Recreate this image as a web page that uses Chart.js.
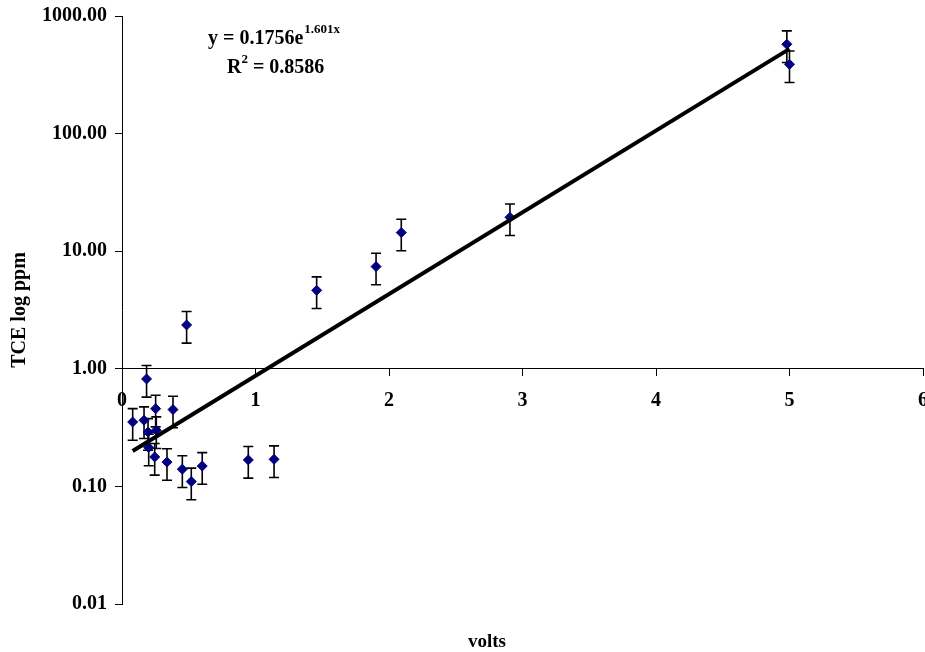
<!DOCTYPE html>
<html>
<head>
<meta charset="utf-8">
<script src="https://cdn.jsdelivr.net/npm/chart.js@4.4.1/dist/chart.umd.min.js"></script>
<style>
  html, body { margin: 0; padding: 0; background: #fff; overflow: hidden; }
  #wrap { width: 925px; height: 652px; overflow: hidden; }
</style>
</head>
<body>
<div id="wrap"><canvas id="tceChart" width="929" height="652"></canvas></div>
<script>
// Measured points (volts vs TCE ppm)
const volts = [0.08, 0.165, 0.184, 0.195, 0.2, 0.245, 0.252, 0.257, 0.337, 0.382, 0.452, 0.484, 0.519, 0.601, 0.946, 1.139, 1.458, 1.903, 2.092, 2.906, 4.98, 5.0];
const tcePpm = [0.353, 0.365, 0.82, 0.29, 0.214, 0.178, 0.458, 0.30, 0.161, 0.45, 0.14, 2.36, 0.11, 0.149, 0.168, 0.17, 4.65, 7.4, 14.4, 19.4, 575, 388];
const errorPct = 30; // error bars, +/- percent

// Exponential trendline ends (y = 0.1756e^1.601x)
const trendX = [0.08, 5];
const trendY = [0.20, 525];

// Axis ticks
const xTicks = [0, 1, 2, 3, 4, 5, 6];
const yTicks = [0.01, 0.1, 1, 10, 100, 1000];

const serif = "'Liberation Serif', 'Times New Roman', serif";

const points = volts.map((v, i) => ({ x: v, y: tcePpm[i] }));
const trend = trendX.map((v, i) => ({ x: v, y: trendY[i] }));

// Error bars drawn under the markers
const errorBars = {
    id: 'errorBars',
    beforeDatasetsDraw(chart) {
        const ctx = chart.ctx;
        const xs = chart.scales.x, ys = chart.scales.y;
        ctx.save();
        ctx.strokeStyle = '#000';
        ctx.lineWidth = 1.6;
        points.forEach(p => {
            const px = xs.getPixelForValue(p.x);
            const top = ys.getPixelForValue(p.y * (1 + errorPct / 100));
            const bot = ys.getPixelForValue(p.y * (1 - errorPct / 100));
            ctx.beginPath();
            ctx.moveTo(px, top); ctx.lineTo(px, bot);
            ctx.moveTo(px - 5, top); ctx.lineTo(px + 5, top);
            ctx.moveTo(px - 5, bot); ctx.lineTo(px + 5, bot);
            ctx.stroke();
        });
        ctx.restore();
    }
};

// Trendline equation and x axis title
const labels = {
    id: 'labels',
    afterDraw(chart) {
        const ctx = chart.ctx;
        ctx.save();
        ctx.fillStyle = '#000';
        ctx.textBaseline = 'alphabetic';
        ctx.textAlign = 'left';

        ctx.font = 'bold 20px ' + serif;
        ctx.fillText('y = 0.1756e', 208, 44);
        let w = ctx.measureText('y = 0.1756e').width;
        ctx.font = 'bold 13px ' + serif;
        ctx.fillText('1.601x', 208 + w + 1, 33);

        ctx.font = 'bold 20px ' + serif;
        ctx.fillText('R', 227, 73);
        w = ctx.measureText('R').width;
        ctx.font = 'bold 13px ' + serif;
        ctx.fillText('2', 227 + w, 63);
        const w2 = ctx.measureText('2').width;
        ctx.font = 'bold 20px ' + serif;
        ctx.fillText(' = 0.8586', 227 + w + w2, 73);

        ctx.font = 'bold 19px ' + serif;
        ctx.textAlign = 'center';
        ctx.fillText('volts', 487, 647);
        ctx.restore();
    }
};

new Chart(document.getElementById('tceChart').getContext('2d'), {
    type: 'scatter',
    data: {
        datasets: [
            {
                label: 'TCE',
                data: points,
                pointStyle: 'rectRot',
                pointRadius: 5,
                pointHoverRadius: 5,
                backgroundColor: '#000080',
                borderColor: '#000080',
                borderWidth: 1,
                order: 2
            },
            {
                label: 'Expon. trend',
                type: 'line',
                data: trend,
                borderColor: '#000',
                borderWidth: 4,
                pointRadius: 0,
                fill: false,
                order: 1
            }
        ]
    },
    options: {
        responsive: false,
        animation: false,
        events: [],
        layout: { padding: { left: 0, right: 0, top: 16, bottom: 48 } },
        plugins: {
            legend: { display: false },
            tooltip: { enabled: false }
        },
        scales: {
            x: {
                type: 'linear',
                position: { y: 1 },
                min: 0,
                max: 6,
                afterBuildTicks: axis => { axis.ticks = xTicks.map(v => ({ value: v })); },
                afterFit: axis => { axis.height = 0; axis.paddingLeft = 0; axis.paddingRight = 0; },
                ticks: {
                    color: '#000',
                    padding: 13,
                    maxRotation: 0,
                    font: { family: serif, size: 20, weight: 'bold' },
                    callback: v => String(v)
                },
                grid: { drawOnChartArea: false, drawTicks: true, tickLength: 7, color: '#000' },
                border: { display: true, color: '#000', width: 1 }
            },
            y: {
                type: 'logarithmic',
                position: 'left',
                min: 0.01,
                max: 1000,
                afterBuildTicks: axis => { axis.ticks = yTicks.map(v => ({ value: v })); },
                afterFit: axis => { axis.width = 122; axis.paddingTop = 0; axis.paddingBottom = 0; },
                ticks: {
                    color: '#000',
                    padding: 8,
                    font: { family: serif, size: 20, weight: 'bold' },
                    callback: v => Number(v).toFixed(2)
                },
                grid: { drawOnChartArea: false, drawTicks: true, tickLength: 7, color: '#000' },
                border: { display: true, color: '#000', width: 1 },
                title: {
                    display: true,
                    text: 'TCE log ppm',
                    color: '#000',
                    padding: { top: 8, bottom: 0 },
                    font: { family: serif, size: 20, weight: 'bold' }
                }
            }
        }
    },
    plugins: [errorBars, labels]
});
</script>
</body>
</html>
